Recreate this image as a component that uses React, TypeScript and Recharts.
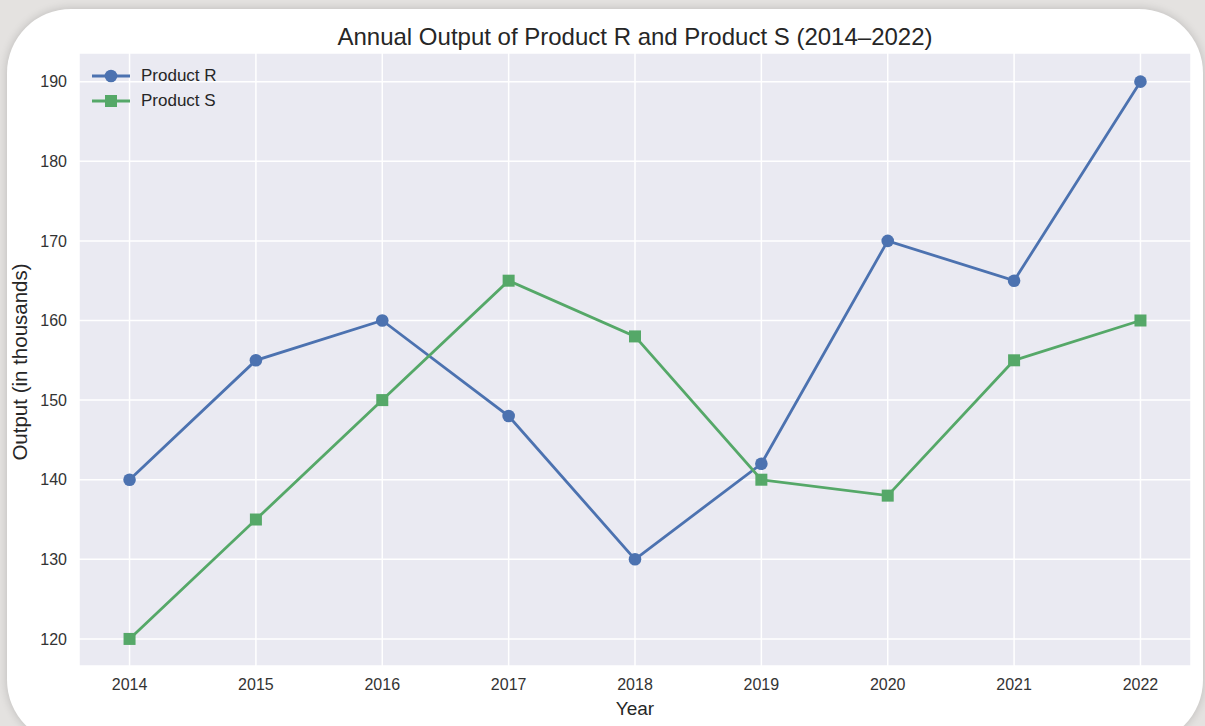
import React from 'react';
import { LineChart, Line, XAxis, YAxis, CartesianGrid } from 'recharts';

const years = [2014, 2015, 2016, 2017, 2018, 2019, 2020, 2021, 2022];
const productR = [140, 155, 160, 148, 130, 142, 170, 165, 190];
const productS = [120, 135, 150, 165, 158, 140, 138, 155, 160];
const yTicks = [120, 130, 140, 150, 160, 170, 180, 190];

const data = years.map((y, i) => ({ year: y, R: productR[i], S: productS[i] }));

const BLUE = '#4C72B0';
const GREEN = '#55A868';
const FONT = '"Liberation Sans", Arial, sans-serif';

const SquareDot = (p: any) => {
  if (p.cx == null || p.cy == null) return null;
  return <rect key={`sq-${p.index}`} x={p.cx - 6} y={p.cy - 6} width={12} height={12} fill={GREEN} />;
};

const legendItems = [
  { name: 'Product R', color: BLUE, shape: 'circle' },
  { name: 'Product S', color: GREEN, shape: 'square' },
];

const LegendBox = () => (
  <div style={{ position: 'absolute', left: 91, top: 63, fontFamily: FONT, fontSize: 17, color: '#262626' }}>
    {legendItems.map((it) => (
      <div key={it.name} style={{ display: 'flex', alignItems: 'center', height: 25 }}>
        <svg width={40} height={14} style={{ marginRight: 10 }}>
          <line x1={1} y1={7} x2={39} y2={7} stroke={it.color} strokeWidth={2.8} />
          {it.shape === 'circle' ? (
            <circle cx={20} cy={7} r={6.3} fill={it.color} />
          ) : (
            <rect x={14} y={1} width={12} height={12} fill={it.color} />
          )}
        </svg>
        <span>{it.name}</span>
      </div>
    ))}
  </div>
);

export default function App() {
  return (
    <div style={{ position: 'absolute', left: 0, top: 0, width: 1205, height: 726, overflow: 'hidden', background: '#e4e2e0' }}>
      <div
        style={{
          position: 'absolute',
          left: 7,
          top: 9,
          width: 1196,
          height: 735,
          background: '#ffffff',
          borderRadius: 64,
          boxShadow: '0 0 10px rgba(0,0,0,0.18)',
        }}
      />
      <div style={{ position: 'absolute', left: 0, top: 0 }}>
        <LineChart width={1205} height={726} data={data} margin={{ top: 53, right: 14, bottom: 0, left: 0 }}>
          <CartesianGrid fill="#EAEAF2" stroke="#ffffff" strokeWidth={1.5} />
          <XAxis
            dataKey="year"
            type="number"
            domain={[2013.6, 2022.4]}
            ticks={years}
            allowDataOverflow
            height={60}
            axisLine={false}
            tickLine={false}
            tickSize={0}
            tickMargin={13}
            tick={{ fill: '#333333', fontSize: 16, fontFamily: FONT }}
          />
          <YAxis
            type="number"
            domain={[116.6, 193.6]}
            ticks={yTicks}
            allowDataOverflow
            width={79}
            axisLine={false}
            tickLine={false}
            tickSize={0}
            tickMargin={12}
            tick={{ fill: '#333333', fontSize: 16, fontFamily: FONT }}
          />
          <Line
            type="linear"
            dataKey="R"
            name="Product R"
            stroke={BLUE}
            strokeWidth={2.8}
            dot={{ r: 6.3, fill: BLUE, stroke: BLUE, strokeWidth: 0 }}
            activeDot={false}
            isAnimationActive={false}
          />
          <Line
            type="linear"
            dataKey="S"
            name="Product S"
            stroke={GREEN}
            strokeWidth={2.8}
            dot={SquareDot}
            activeDot={false}
            isAnimationActive={false}
          />
        </LineChart>
      </div>
      <LegendBox />
      <div
        style={{
          position: 'absolute',
          left: 0,
          width: 1270,
          top: 23,
          textAlign: 'center',
          fontFamily: FONT,
          fontSize: 24,
          color: '#262626',
          lineHeight: '28px',
          whiteSpace: 'nowrap',
        }}
      >
        Annual Output of Product R and Product S (2014–2022)
      </div>
      <div
        style={{
          position: 'absolute',
          left: 0,
          width: 1270,
          top: 697,
          textAlign: 'center',
          fontFamily: FONT,
          fontSize: 19,
          color: '#262626',
          lineHeight: '24px',
        }}
      >
        Year
      </div>
      <div
        style={{
          position: 'absolute',
          left: 20,
          top: 362,
          transform: 'translate(-50%, -50%) rotate(-90deg)',
          fontFamily: FONT,
          fontSize: 20.5,
          color: '#262626',
          lineHeight: '24px',
          whiteSpace: 'nowrap',
        }}
      >
        Output (in thousands)
      </div>
    </div>
  );
}
